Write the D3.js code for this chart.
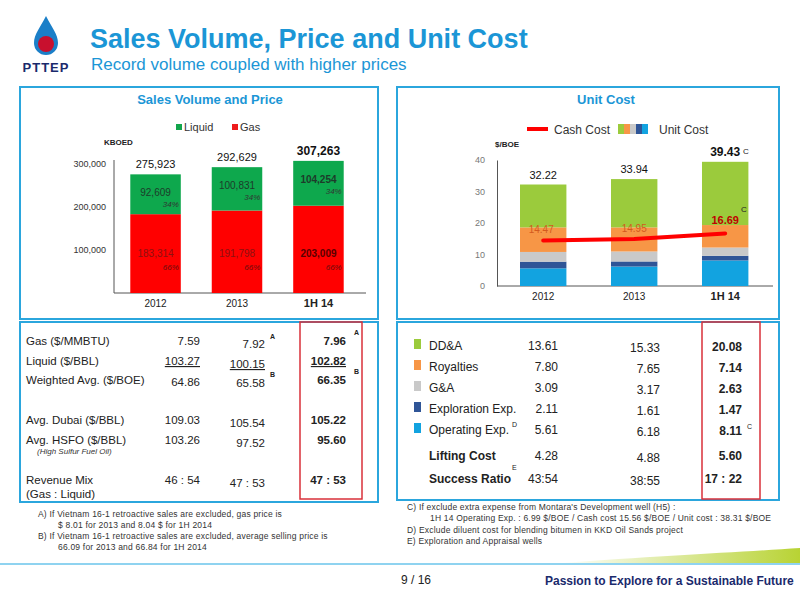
<!DOCTYPE html>
<html lang="en">
<head>
<meta charset="UTF-8" />
<title>Sales Volume, Price and Unit Cost</title>
<script src="https://d3js.org/d3.v7.min.js"></script>
<style>
  body { margin: 0; background: #fff; }
  text { font-family: "Liberation Sans", Arial, sans-serif; }
</style>
</head>
<body>
<svg id="slide" width="800" height="600"></svg>
<script>
// ---- data ----
const periods = ['2012', '2013', '1H 14']
const gasVolume = [183314, 191798, 203009]
const liquidVolume = [92609, 100831, 104254]
const totalVolume = [275923, 292629, 307263]
const volumeTicks = [100000, 200000, 300000]

const costNames = ['Operating Exp.', 'Exploration Exp.', 'G&A', 'Royalties', 'DD&A']
const costColors = ['#12a3e0', '#2f5597', '#c9c9c9', '#f79646', '#9bcb3c']
const opex = [5.61, 6.18, 8.11]
const exploration = [2.11, 1.61, 1.47]
const gna = [3.09, 3.17, 2.63]
const royalties = [7.80, 7.65, 7.14]
const dda = [13.61, 15.33, 20.08]
const unitCost = [32.22, 33.94, 39.43]
const cashCost = [14.47, 14.95, 16.69]
const costTicks = [0, 10, 20, 30, 40]

const priceRows = [
  ['Gas ($/MMBTU)', '7.59', '7.92', '7.96'],
  ['Liquid ($/BBL)', '103.27', '100.15', '102.82'],
  ['Weighted Avg. ($/BOE)', '64.86', '65.58', '66.35'],
  ['Avg. Dubai ($/BBL)', '109.03', '105.54', '105.22'],
  ['Avg. HSFO ($/BBL)', '103.26', '97.52', '95.60'],
  ['Revenue Mix', '46 : 54', '47 : 53', '47 : 53']
]
const costRows = [
  ['DD&A', '13.61', '15.33', '20.08'],
  ['Royalties', '7.80', '7.65', '7.14'],
  ['G&A', '3.09', '3.17', '2.63'],
  ['Exploration Exp.', '2.11', '1.61', '1.47'],
  ['Operating Exp.', '5.61', '6.18', '8.11'],
  ['Lifting Cost', '4.28', '4.88', '5.60'],
  ['Success Ratio', '43:54', '38:55', '17 : 22']
]

const blue = '#1b96d6', frame = '#2ba6dd'
const svg = d3.select('#slide')

// ---- header ----
const logo = svg.append('g')
logo.append('path').attr('d', 'M46,16 C40,28 34,34 34,43 A12,12 0 0 0 58,43 C58,34 52,28 46,16Z').attr('fill', '#1b7fc8')
logo.append('circle').attr('cx', 46).attr('cy', 44).attr('r', 8).attr('fill', '#c8102e')
logo.append('text').attr('x', 46).attr('y', 72).attr('text-anchor', 'middle')
  .attr('font-size', 13).attr('font-weight', 'bold').attr('fill', '#1a2a6c').attr('letter-spacing', 1).text('PTTEP')
svg.append('text').attr('x', 90).attr('y', 48).attr('font-size', 27).attr('font-weight', 'bold').attr('fill', blue).text('Sales Volume, Price and Unit Cost')
svg.append('text').attr('x', 91).attr('y', 70).attr('font-size', 17).attr('fill', blue).text('Record volume coupled with higher prices')

// ---- frames ----
const boxes = [[20, 87, 358, 232], [20, 322, 358, 180], [397, 87, 382, 232], [397, 322, 382, 178]]
boxes.forEach(b => svg.append('rect').attr('x', b[0]).attr('y', b[1]).attr('width', b[2]).attr('height', b[3])
  .attr('fill', 'none').attr('stroke', frame).attr('stroke-width', 2))
svg.append('rect').attr('x', 300).attr('y', 322).attr('width', 62).attr('height', 177).attr('fill', 'none').attr('stroke', '#d9303a').attr('stroke-width', 1.5)
svg.append('rect').attr('x', 702).attr('y', 322).attr('width', 58).attr('height', 177).attr('fill', 'none').attr('stroke', '#d9303a').attr('stroke-width', 1.5)

// ---- left chart ----
svg.append('text').attr('x', 210).attr('y', 104).attr('text-anchor', 'middle').attr('font-size', 13).attr('font-weight', 'bold').attr('fill', blue).text('Sales Volume and Price')
const lx = d3.scaleBand().domain(periods).range([114, 360]).paddingInner(0.38).paddingOuter(0.2)
const ly = d3.scaleLinear().domain([0, 300000]).range([293, 164])
const lAxis = svg.append('g').attr('transform', 'translate(114,0)')
  .call(d3.axisLeft(ly).tickValues(volumeTicks).tickFormat(d3.format(',')).tickSize(0).tickPadding(8))
lAxis.select('.domain').attr('stroke', '#555').attr('d', 'M0,160V293')
lAxis.selectAll('text').attr('font-size', 9).attr('fill', '#333').attr('font-family', 'Liberation Sans, Arial')
svg.append('line').attr('x1', 114).attr('x2', 366).attr('y1', 293).attr('y2', 293).attr('stroke', '#555')
svg.append('text').attr('x', 104).attr('y', 145).attr('font-size', 8).attr('font-weight', 'bold').attr('fill', '#222').text('KBOED')
;[['Liquid', '#12a54c', 176], ['Gas', '#ee1c1c', 232]].forEach(l => {
  svg.append('rect').attr('x', l[2]).attr('y', 124).attr('width', 6).attr('height', 6).attr('fill', l[1])
  svg.append('text').attr('x', l[2] + 8).attr('y', 131).attr('font-size', 11).attr('fill', '#333').text(l[0])
})
periods.forEach((p, i) => {
  const x = lx(p), w = lx.bandwidth(), bold = i === 2 ? 'bold' : 'normal'
  svg.append('rect').attr('x', x).attr('width', w).attr('y', ly(gasVolume[i])).attr('height', ly(0) - ly(gasVolume[i])).attr('fill', '#ff0000')
  svg.append('rect').attr('x', x).attr('width', w).attr('y', ly(totalVolume[i])).attr('height', ly(gasVolume[i]) - ly(totalVolume[i])).attr('fill', '#0ea84d')
  const c = x + w / 2
  svg.append('text').attr('x', c).attr('y', ly(totalVolume[i]) - 6).attr('text-anchor', 'middle').attr('font-size', i === 2 ? 12 : 11).attr('font-weight', bold).attr('fill', '#111').text(d3.format(',')(totalVolume[i]))
  svg.append('text').attr('x', c).attr('y', ly(totalVolume[i]) + 22).attr('text-anchor', 'middle').attr('font-size', 10).attr('font-weight', bold).attr('fill', '#1d3b2a').text(d3.format(',')(liquidVolume[i]))
  svg.append('text').attr('x', x + w - 2).attr('y', ly(totalVolume[i]) + 33).attr('text-anchor', 'end').attr('font-size', 8).attr('font-style', 'italic').attr('fill', '#333').text('34%')
  svg.append('text').attr('x', c).attr('y', ly(0) - 36).attr('text-anchor', 'middle').attr('font-size', 10).attr('font-weight', bold).attr('fill', i === 2 ? '#5a0000' : '#8e1010').text(d3.format(',')(gasVolume[i]))
  svg.append('text').attr('x', x + w - 2).attr('y', ly(0) - 23).attr('text-anchor', 'end').attr('font-size', 8).attr('font-style', 'italic').attr('fill', '#6a0d0d').text('66%')
  svg.append('text').attr('x', c).attr('y', 307).attr('text-anchor', 'middle').attr('font-size', i === 2 ? 11 : 10).attr('font-weight', bold).attr('fill', '#222').text(p)
})

// ---- right chart ----
svg.append('text').attr('x', 606).attr('y', 104).attr('text-anchor', 'middle').attr('font-size', 13).attr('font-weight', 'bold').attr('fill', blue).text('Unit Cost')
const rx = d3.scaleBand().domain(periods).range([520, 748.4]).paddingInner(0.49).paddingOuter(0)
const ry = d3.scaleLinear().domain([0, 40]).range([286, 160])
const rAxis = svg.append('g').attr('transform', 'translate(497,0)')
  .call(d3.axisLeft(ry).tickValues(costTicks).tickSize(0).tickPadding(12))
rAxis.select('.domain').attr('stroke', '#555')
rAxis.selectAll('text').attr('font-size', 9).attr('fill', '#777').attr('font-family', 'Liberation Sans, Arial')
svg.append('line').attr('x1', 497).attr('x2', 773).attr('y1', 286).attr('y2', 286).attr('stroke', '#555')
svg.append('text').attr('x', 495).attr('y', 147).attr('font-size', 8).attr('font-weight', 'bold').attr('fill', '#222').text('$/BOE')
svg.append('line').attr('x1', 527).attr('x2', 548).attr('y1', 129).attr('y2', 129).attr('stroke', '#ff0000').attr('stroke-width', 4)
svg.append('text').attr('x', 554).attr('y', 134).attr('font-size', 12).attr('fill', '#333').text('Cash Cost')
;[0, 1, 2, 3, 4].forEach(k => svg.append('rect').attr('x', 618 + k * 6).attr('y', 124).attr('width', 6).attr('height', 10).attr('fill', [costColors[4], costColors[3], costColors[2], costColors[1], costColors[0]][k]))
svg.append('text').attr('x', 659).attr('y', 134).attr('font-size', 12).attr('fill', '#333').text('Unit Cost')

const costSeries = [opex, exploration, gna, royalties, dda]
const stackData = periods.map((p, i) => ({ p, ...Object.fromEntries(costSeries.map((s, k) => [k, s[i]])) }))
const stacks = d3.stack().keys([0, 1, 2, 3, 4])(stackData)
stacks.forEach((s, k) => {
  svg.append('g').selectAll('rect').data(s).join('rect')
    .attr('x', d => rx(d.data.p)).attr('width', rx.bandwidth())
    .attr('y', d => ry(d[1])).attr('height', d => ry(d[0]) - ry(d[1])).attr('fill', costColors[k])
})
periods.forEach((p, i) => {
  const c = rx(p) + rx.bandwidth() / 2, last = i === 2
  svg.append('text').attr('x', c).attr('y', ry(unitCost[i]) - 6).attr('text-anchor', 'middle').attr('font-size', last ? 12 : 11).attr('font-weight', last ? 'bold' : 'normal').attr('fill', '#111').text(unitCost[i].toFixed(2))
  svg.append('text').attr('x', c).attr('y', 300).attr('text-anchor', 'middle').attr('font-size', last ? 11 : 10).attr('font-weight', last ? 'bold' : 'normal').attr('fill', '#222').text(p)
  svg.append('text').attr('x', c + (i === 0 ? -2 : 0)).attr('y', ry(cashCost[i]) - (last ? 9 : 7)).attr('text-anchor', 'middle').attr('font-size', last ? 11 : 10).attr('font-weight', last ? 'bold' : 'normal').attr('fill', last ? '#c00000' : '#d35a1e').text(cashCost[i].toFixed(2))
})
svg.append('text').attr('x', 743).attr('y', 154).attr('font-size', 8).attr('fill', '#222').text('C')
svg.append('text').attr('x', 741).attr('y', 212).attr('font-size', 8).attr('fill', '#222').text('C')
const cashLine = d3.line().x((d, i) => rx(periods[i]) + rx.bandwidth() / 2).y(d => ry(d))
svg.append('path').datum(cashCost).attr('d', cashLine).attr('fill', 'none').attr('stroke', '#ff0000').attr('stroke-width', 4).attr('stroke-linecap', 'round')

// ---- left table ----
const lRowY = [345, 365, 384, 424, 444, 484]
const lColX = [200, 265, 346]
priceRows.forEach((r, i) => {
  svg.append('text').attr('x', 26).attr('y', lRowY[i]).attr('font-size', 11.5).attr('fill', '#222').text(r[0])
  r.slice(1).forEach((v, j) => {
    const t = svg.append('text').attr('x', lColX[j]).attr('y', lRowY[i] + (j === 1 ? 3 : 0) + (i === 2 && j === 0 ? 2 : 0)).attr('text-anchor', 'end')
      .attr('font-size', 11.5).attr('fill', '#222').attr('font-weight', j === 2 ? 'bold' : 'normal').text(v)
    if (i === 1) t.attr('text-decoration', 'underline')
  })
})
svg.append('text').attr('x', 37).attr('y', 454).attr('font-size', 8).attr('font-style', 'italic').attr('fill', '#333').text('(High Sulfur Fuel Oil)')
svg.append('text').attr('x', 26).attr('y', 498).attr('font-size', 11.5).attr('fill', '#222').text('(Gas : Liquid)')
;[[270, 339, 'A'], [354, 335, 'A'], [270, 377, 'B'], [354, 374, 'B']].forEach(s =>
  svg.append('text').attr('x', s[0]).attr('y', s[1]).attr('font-size', 7).attr('font-weight', 'bold').attr('fill', '#222').text(s[2]))

// ---- right table ----
const rRowY = [352, 373, 394, 415, 436, 462, 485]
const rColX = [558, 660, 742]
costRows.forEach((r, i) => {
  if (i < 5) svg.append('rect').attr('x', 414).attr('y', rRowY[i] - 13).attr('width', 7).attr('height', 10).attr('fill', costColors[4 - i])
  svg.append('text').attr('x', 429).attr('y', rRowY[i] - 2).attr('font-size', 12).attr('font-weight', i >= 5 ? 'bold' : 'normal').attr('fill', '#222').text(r[0])
  r.slice(1).forEach((v, j) => svg.append('text').attr('x', rColX[j]).attr('y', rRowY[i] + (j === 1 ? 0 : -2) + (j === 2 && i < 5 ? 1 : 0)).attr('text-anchor', 'end')
    .attr('font-size', 12).attr('font-weight', j === 2 ? 'bold' : 'normal').attr('fill', '#222').text(v))
})
;[[512, 427, 'D'], [512, 470, 'E'], [747, 429, 'C']].forEach(s =>
  svg.append('text').attr('x', s[0]).attr('y', s[1]).attr('font-size', 7).attr('fill', '#222').text(s[2]))

// ---- footnotes ----
const leftNotes = [
  [38, 517, 'A)  If Vietnam 16-1 retroactive sales are excluded, gas price is'],
  [58, 528, '$ 8.01 for 2013   and  8.04  $ for  1H 2014'],
  [38, 539, 'B)  If Vietnam 16-1 retroactive sales are excluded, average selling price is'],
  [58, 550, '66.09  for 2013  and  66.84  for  1H 2014']
]
const rightNotes = [
  [407, 510, 'C)     If exclude extra expense from Montara\'s Development well (H5) :'],
  [430, 521, '1H 14   Operating  Exp. :  6.99 $/BOE  /  Cash cost 15.56 $/BOE  /  Unit cost : 38.31 $/BOE'],
  [407, 533, 'D)     Exclude diluent cost for blending bitumen in KKD Oil Sands  project'],
  [407, 544, 'E)     Exploration and Appraisal wells']
]
leftNotes.concat(rightNotes).forEach(n => svg.append('text').attr('x', n[0]).attr('y', n[1]).attr('font-size', 8.5).attr('letter-spacing', 0.2).attr('fill', '#333').text(n[2]))

// ---- footer ----
const grad = svg.append('defs').append('linearGradient').attr('id', 'swoosh')
grad.append('stop').attr('offset', '0').attr('stop-color', '#ffffff')
grad.append('stop').attr('offset', '1').attr('stop-color', '#b8d334')
svg.append('path').attr('d', 'M560,563 C660,556 740,552 800,548 L800,563Z').attr('fill', 'url(#swoosh)')
svg.append('line').attr('x1', 0).attr('x2', 800).attr('y1', 564).attr('y2', 564).attr('stroke', '#8fd3f0').attr('stroke-width', 2)
svg.append('text').attr('x', 416).attr('y', 584).attr('text-anchor', 'middle').attr('font-size', 12).attr('fill', '#222').text('9 / 16')
svg.append('text').attr('x', 545).attr('y', 585).attr('font-size', 12).attr('font-weight', 'bold').attr('fill', '#1a2a6c').text('Passion to Explore for a Sustainable Future')
</script>
</body>
</html>
